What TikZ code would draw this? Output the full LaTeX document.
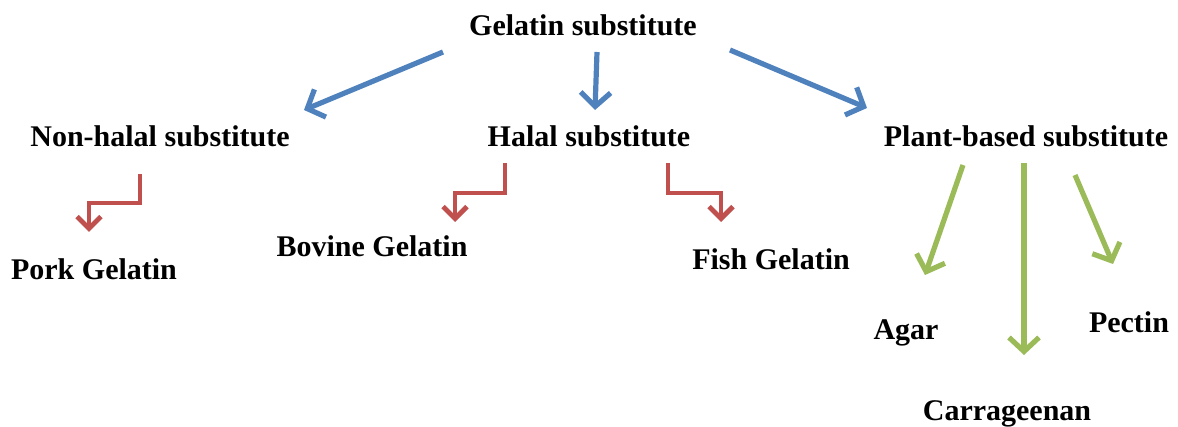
\documentclass[tikz,border=0pt]{standalone}
\usepackage{fontspec}
\setmainfont{Liberation Serif}
\usetikzlibrary{arrows.meta}
\definecolor{bluearr}{HTML}{4F81BD}
\definecolor{redarr}{HTML}{C0504D}
\definecolor{greenarr}{HTML}{9BBB59}
\tikzset{
  lbl/.style={anchor=base, inner sep=0pt, font=\fontsize{15}{18}\selectfont\bfseries},
  conn/.style={line width=2.6pt, -{Straight Barb[length=7pt,width=15pt]}},
  bconn/.style={conn, draw=bluearr},
  rconn/.style={conn, draw=redarr, line width=2.4pt, -{Straight Barb[length=6pt,width=12pt]}},
  gconn/.style={conn, draw=greenarr},
}
\begin{document}
\begin{tikzpicture}[x=0.5pt, y=-0.5pt]
\useasboundingbox (0,0) rectangle (1178,427);
% labels
\node[lbl] (gel) at (583,36) {Gelatin substitute};
\node[lbl] (nonhalal) at (160,147) {Non-halal substitute};
\node[lbl] (halal) at (589,147) {Halal substitute};
\node[lbl] (plant) at (1026,147) {Plant-based substitute};
\node[lbl] (pork) at (94,279) {Pork Gelatin};
\node[lbl] (bovine) at (372,257) {Bovine Gelatin};
\node[lbl] (fish) at (771,270) {Fish Gelatin};
\node[lbl] (agar) at (906,340) {Agar};
\node[lbl] (pectin) at (1129,332) {Pectin};
\node[lbl] (carr) at (1007,420) {Carrageenan};
% coordinates
\coordinate (b1s) at (443,52); \coordinate (b1e) at (304,110);
\coordinate (b2s) at (597,52); \coordinate (b2e) at (595,110);
\coordinate (b3s) at (730,50); \coordinate (b3e) at (867,108);
\coordinate (r1s) at (140,174); \coordinate (r1m) at (140,203); \coordinate (r1n) at (89,203); \coordinate (r1e) at (89,232);
\coordinate (r2s) at (505,163); \coordinate (r2m) at (505,193); \coordinate (r2n) at (455,193); \coordinate (r2e) at (455,222);
\coordinate (r3s) at (668,163); \coordinate (r3m) at (668,193); \coordinate (r3n) at (721,193); \coordinate (r3e) at (721,222);
\coordinate (g1s) at (963,165); \coordinate (g1e) at (925,275);
\coordinate (g2s) at (1024,163); \coordinate (g2e) at (1024,355);
\coordinate (g3s) at (1075,175); \coordinate (g3e) at (1113,264);
% connectors
\draw[bconn] (b1s) -- (b1e);
\draw[bconn] (b2s) -- (b2e);
\draw[bconn] (b3s) -- (b3e);
\draw[rconn] (r1s) -- (r1m) -- (r1n) -- (r1e);
\draw[rconn] (r2s) -- (r2m) -- (r2n) -- (r2e);
\draw[rconn] (r3s) -- (r3m) -- (r3n) -- (r3e);
\draw[gconn] (g1s) -- (g1e);
\draw[gconn] (g2s) -- (g2e);
\draw[gconn] (g3s) -- (g3e);
\end{tikzpicture}
\end{document}
